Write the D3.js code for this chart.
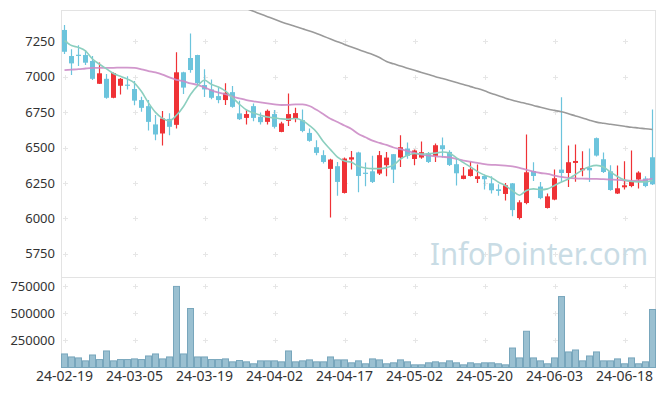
<!DOCTYPE html>
<html>
<head>
<meta charset="utf-8">
<script src="https://cdn.jsdelivr.net/npm/d3@7"></script>
<style>
  body { margin: 0; background: #fff; }
  svg { display: block; font-family: "Noto Sans", "Open Sans", sans-serif; }
</style>
</head>
<body>
<div id="chart"></div>
<script>
// Trading days shown on the chart
const DATES = [
  '24-02-19','24-02-20','24-02-21','24-02-22','24-02-23','24-02-26','24-02-27','24-02-28','24-02-29','24-03-04',
  '24-03-05','24-03-06','24-03-07','24-03-08','24-03-11','24-03-12','24-03-13','24-03-14','24-03-15','24-03-18',
  '24-03-19','24-03-20','24-03-21','24-03-22','24-03-25','24-03-26','24-03-27','24-03-28','24-03-29','24-04-01',
  '24-04-02','24-04-03','24-04-04','24-04-05','24-04-08','24-04-09','24-04-11','24-04-12','24-04-15','24-04-16',
  '24-04-17','24-04-18','24-04-19','24-04-22','24-04-23','24-04-24','24-04-25','24-04-26','24-04-29','24-04-30',
  '24-05-02','24-05-03','24-05-07','24-05-08','24-05-09','24-05-10','24-05-13','24-05-14','24-05-16','24-05-17',
  '24-05-20','24-05-21','24-05-22','24-05-23','24-05-24','24-05-27','24-05-28','24-05-29','24-05-30','24-05-31',
  '24-06-03','24-06-04','24-06-05','24-06-07','24-06-10','24-06-11','24-06-12','24-06-13','24-06-14','24-06-17',
  '24-06-18','24-06-19','24-06-20','24-06-21','24-06-24'
];

// OHLC values
const OPEN = [
  7330,7146,7155,7153,7111,6950,6985,6851,6936,6944, 6913,6835,6792,6663,6599,6702,6660,7031,7132,7153,
  6941,6910,6863,6835,6891,6741,6709,6792,6717,6681, 6736,6610,6688,6702,6693,6603,6502,6446,6349,6368,
  6179,6415,6465,6322,6332,6316,6375,6453,6429,6493, 6419,6429,6458,6441,6516,6469,6382,6278,6299,6278,
  6299,6247,6205,6172,6247,6002,6108,6334,6224,6073, 6132,6344,6320,6391,6339,6356,6566,6417,6332,6175,
  6219,6228,6274,6281,6431
];
const HIGH = [
  7365,7193,7222,7188,7146,7101,7019,7030,6990,7004, 6969,6858,6835,6729,6757,6741,7172,7035,7305,7155,
  7052,6981,6925,6953,6934,6830,6764,6811,6748,6769, 6764,6681,6882,6780,6769,6634,6552,6481,6420,6398,
  6429,6476,6470,6394,6441,6476,6469,6455,6587,6535, 6486,6542,6469,6528,6571,6481,6422,6363,6398,6380,
  6310,6297,6240,6250,6250,6127,6592,6396,6257,6175, 6344,6854,6514,6521,6474,6493,6570,6465,6375,6373,
  6403,6479,6332,6297,6769
];
const LOW = [
  7160,7012,7075,7082,6976,6948,6845,6848,6874,6910, 6799,6752,6620,6552,6514,6587,6634,6877,7028,6941,
  6856,6840,6813,6801,6780,6695,6663,6686,6663,6663, 6634,6608,6651,6679,6608,6540,6446,6387,6005,6160,
  6175,6344,6184,6226,6250,6305,6297,6250,6363,6420, 6375,6420,6390,6398,6429,6370,6231,6275,6295,6250,
  6203,6175,6160,6125,6014,5991,6100,6264,6135,6070, 6128,6257,6221,6259,6297,6257,6436,6320,6195,6172,
  6203,6220,6210,6220,6235
];
const CLOSE = [
  7176,7094,7150,7099,6985,7024,6851,7026,6985,6937, 6831,6780,6681,6592,6705,6646,7031,6923,7047,6955,
  6910,6851,6835,6886,6787,6700,6736,6709,6679,6759, 6646,6670,6736,6743,6617,6547,6462,6398,6415,6257,
  6422,6431,6299,6315,6257,6446,6429,6344,6502,6441, 6479,6467,6398,6516,6488,6377,6318,6302,6346,6297,
  6276,6198,6193,6233,6058,6113,6325,6299,6143,6155, 6283,6320,6396,6405,6354,6339,6443,6327,6200,6212,
  6233,6264,6323,6228,6240
];

// Trading volume
const VOLUME = [
  124500,97000,88000,61000,115000,73000,152000,61000,73000,73000,
  79000,73000,106000,124500,79000,97000,745000,124500,542000,97000,
  97000,73000,73000,79000,52000,64000,52000,34000,61000,61000,
  61000,52000,152000,52000,61000,70000,52000,52000,97000,70000,
  70000,43000,61000,34000,79000,70000,34000,43000,70000,52000,
  24500,24500,43000,52000,43000,61000,43000,24500,43000,34000,
  43000,43000,34000,24500,179000,88000,333000,88000,61000,34000,
  88000,652000,143000,161000,61000,106000,143000,61000,61000,79000,
  34000,88000,34000,52000,533000
];

// Moving average lines (5, 20, 120 day) as drawn
const MA5 = [
  7255,7220,7207,7182,7125,7088,7055,7023,7003,6983, 6955,6895,6815,6748,6706,6689,6728,6790,6874,6935,
  6975,6946,6927,6898,6852,6805,6765,6745,6728,6715, 6709,6702,6700,6705,6690,6655,6610,6540,6485,6432,
  6405,6395,6368,6355,6351,6351,6358,6376,6418,6446, 6458,6454,6456,6460,6468,6460,6427,6393,6363,6330,
  6305,6287,6255,6230,6195,6163,6197,6208,6202,6208, 6232,6257,6278,6310,6342,6364,6374,6362,6327,6295,
  6270,6260,6257,6257,6269
];
const MA20 = [
  7047,7050,7053,7058,7062,7063,7063,7063,7064,7064, 7062,7052,7040,7030,7015,6995,6978,6968,6953,6943,
  6925,6903,6888,6876,6860,6847,6835,6826,6818,6811, 6805,6800,6801,6805,6804,6793,6766,6735,6703,6680,
  6655,6630,6595,6572,6548,6532,6518,6500,6488,6475, 6462,6450,6443,6438,6434,6430,6420,6408,6400,6392,
  6383,6378,6376,6372,6366,6357,6342,6330,6320,6313, 6302,6292,6286,6282,6280,6279,6278,6276,6274,6272,
  6268,6265,6266,6272,6280
];
const MA120 = [
  null,null,null,null,null,null,null,null,null,null, null,null,null,null,null,null,null,null,null,null,
  null,null,null,null,7519,7500,7481,7462,7443,7424, 7405,7387,7370,7354,7338,7323,7305,7286,7266,7247,
  7228,7210,7192,7174,7157,7135,7107,7091,7075,7060, 7045,7030,7015,7000,6987,6973,6959,6945,6930,6916,
  6900,6882,6866,6848,6834,6822,6809,6797,6784,6772, 6762,6752,6738,6723,6709,6693,6679,6671,6664,6657,
  6650,6643,6638,6632,6627
];

// Axis tick values
const PRICE_TICKS = [5750, 6000, 6250, 6500, 6750, 7000, 7250];
const VOLUME_TICKS = [250000, 500000, 750000];
const DATE_TICKS = DATES.filter((d, i) => i % 10 === 0);

const WIDTH = 665, HEIGHT = 396;
const LEFT = 61, RIGHT = 656;
const PRICE_TOP = 10, PRICE_BOTTOM = 277.5;
const VOL_TOP = 277.5, VOL_BOTTOM = 367.5;
const GRID = '#e3e3e3';

const svg = d3.select('#chart').append('svg')
  .attr('width', WIDTH)
  .attr('height', HEIGHT);

// Scales
const x = d3.scaleBand().domain(DATES).range([LEFT, RIGHT]).padding(0);
const xc = d => x(d) + x.bandwidth() / 2;
const yPrice = d3.scaleLinear().domain([5582, 7471]).range([PRICE_BOTTOM, PRICE_TOP]);
const yVol = d3.scaleLinear().domain([0, 827000]).range([VOL_BOTTOM, VOL_TOP]);

svg.append('defs').append('clipPath').attr('id', 'priceClip')
  .append('rect')
  .attr('x', LEFT).attr('y', PRICE_TOP)
  .attr('width', 655 - LEFT).attr('height', PRICE_BOTTOM - PRICE_TOP);

// Frame lines
const frame = svg.append('g').attr('stroke', GRID).attr('stroke-width', 1);
frame.append('line').attr('x1', LEFT).attr('x2', 655.5).attr('y1', PRICE_TOP + 0.5).attr('y2', PRICE_TOP + 0.5);
frame.append('line').attr('x1', LEFT).attr('x2', 655.5).attr('y1', PRICE_BOTTOM).attr('y2', PRICE_BOTTOM);
frame.append('line').attr('x1', 655.5).attr('x2', 655.5).attr('y1', PRICE_TOP).attr('y2', VOL_BOTTOM);
frame.append('line').attr('x1', LEFT + 0.5).attr('x2', LEFT + 0.5).attr('y1', PRICE_TOP).attr('y2', VOL_BOTTOM);
frame.append('line').attr('x1', LEFT).attr('x2', 655.5).attr('y1', VOL_BOTTOM).attr('y2', VOL_BOTTOM);

// Small "+" grid markers at tick crossings
const crosses = [];
DATE_TICKS.forEach(d => {
  PRICE_TICKS.forEach(p => crosses.push([xc(d), yPrice(p)]));
  VOLUME_TICKS.forEach(v => crosses.push([xc(d), yVol(v)]));
});
const cg = svg.append('g').attr('stroke', '#e6e6e6').attr('stroke-width', 1);
crosses.forEach(([cx, cy]) => {
  cg.append('line').attr('x1', Math.round(cx) - 2).attr('x2', Math.round(cx) + 3)
    .attr('y1', Math.round(cy) + 0.5).attr('y2', Math.round(cy) + 0.5);
  cg.append('line').attr('x1', Math.round(cx) + 0.5).attr('x2', Math.round(cx) + 0.5)
    .attr('y1', Math.round(cy) - 2).attr('y2', Math.round(cy) + 3);
});

// Watermark
svg.append('text')
  .attr('x', 648).attr('y', 265)
  .attr('text-anchor', 'end')
  .attr('font-size', '31px')
  .attr('fill', '#c9dce5')
  .attr('textLength', 218)
  .attr('lengthAdjust', 'spacingAndGlyphs')
  .text('InfoPointer.com');

// Volume bars
svg.append('g').selectAll('rect')
  .data(DATES)
  .enter()
  .append('rect')
  .attr('x', d => x(d) + 0.5)
  .attr('y', (d, i) => yVol(VOLUME[i]))
  .attr('width', x.bandwidth() - 1)
  .attr('height', (d, i) => VOL_BOTTOM - yVol(VOLUME[i]))
  .attr('fill', '#9ac0d1')
  .attr('stroke', '#78a6bc')
  .attr('stroke-width', 1);

// Candles
const UP = '#ef3236', DOWN = '#6cc4dc';
const candles = svg.append('g').attr('clip-path', 'url(#priceClip)');
DATES.forEach((d, i) => {
  const color = CLOSE[i] >= OPEN[i] ? UP : DOWN;
  candles.append('line')
    .attr('x1', xc(d)).attr('x2', xc(d))
    .attr('y1', yPrice(HIGH[i])).attr('y2', yPrice(LOW[i]))
    .attr('stroke', color)
    .attr('stroke-width', 1.2);
  const top = yPrice(Math.max(OPEN[i], CLOSE[i]));
  const bottom = yPrice(Math.min(OPEN[i], CLOSE[i]));
  candles.append('rect')
    .attr('x', x(d) + 1)
    .attr('y', top)
    .attr('width', x.bandwidth() - 2)
    .attr('height', Math.max(bottom - top, 1.2))
    .attr('fill', color);
});

// Moving average lines
const maLine = values => d3.line()
  .defined((d, i) => values[i] !== null)
  .x(d => xc(d))
  .y((d, i) => yPrice(values[i]))
  .curve(d3.curveMonotoneX);

const lines = svg.append('g').attr('clip-path', 'url(#priceClip)').attr('fill', 'none');
lines.append('path').attr('d', maLine(MA120)(DATES)).attr('stroke', '#9a9a9a').attr('stroke-width', 1.6);
lines.append('path').attr('d', maLine(MA20)(DATES)).attr('stroke', '#cc8cc6').attr('stroke-width', 1.8).attr('opacity', 0.9);
lines.append('path').attr('d', maLine(MA5)(DATES)).attr('stroke', '#8ccfbf').attr('stroke-width', 1.6);

// Axes
const axisStyle = size => g => {
  g.select('.domain').remove();
  g.selectAll('text').attr('fill', '#333').attr('font-size', size)
    .attr('font-family', '"Noto Sans", "Open Sans", sans-serif');
};

svg.append('g')
  .attr('transform', `translate(${LEFT},0)`)
  .call(d3.axisLeft(yPrice).tickValues(PRICE_TICKS).tickSize(0).tickPadding(6).tickFormat(d3.format('d')))
  .call(axisStyle('13px'));

svg.append('g')
  .attr('transform', `translate(${LEFT},0)`)
  .call(d3.axisLeft(yVol).tickValues(VOLUME_TICKS).tickSize(0).tickPadding(6).tickFormat(d3.format('d')))
  .call(axisStyle('13px'));

svg.append('g')
  .attr('transform', `translate(0,${VOL_BOTTOM})`)
  .call(d3.axisBottom(x).tickValues(DATE_TICKS).tickSize(0).tickPadding(4))
  .call(axisStyle('14px'));
</script>
</body>
</html>
